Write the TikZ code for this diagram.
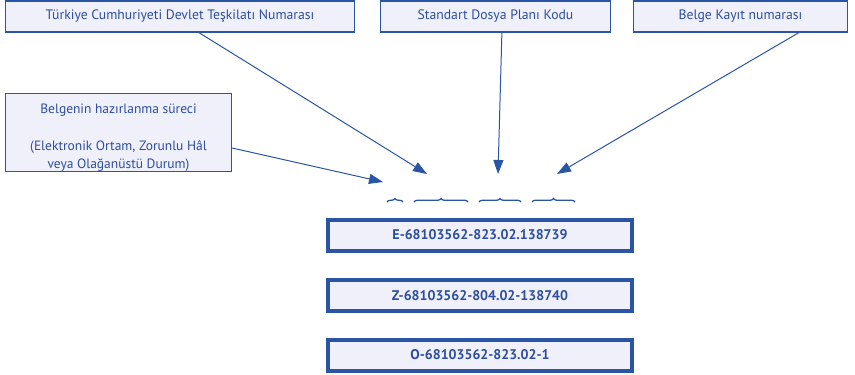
\documentclass[tikz,border=0pt]{standalone}
\usepackage{fontspec}
\setmainfont{PT Sans}
\usetikzlibrary{arrows.meta,decorations.pathreplacing}
\definecolor{lineblue}{HTML}{2A55A5}
\definecolor{textblue}{HTML}{2D4E9E}
\definecolor{boxfill}{HTML}{EFF0F9}

\begin{document}
\begin{tikzpicture}[x=1pt,y=-1pt,
  labelbox/.style={draw=lineblue, line width=1.2pt, fill=boxfill, text=textblue,
    font=\fontsize{13.7}{16}\selectfont, inner sep=0pt, minimum height=31pt},
  codebox/.style={draw=lineblue, line width=4pt, fill=boxfill, text=textblue,
    font=\bfseries\fontsize{14}{16}\selectfont, inner sep=0pt,
    minimum width=304pt, minimum height=31pt},
  pointer/.style={draw=lineblue, line width=1pt, -{Triangle[length=14pt,width=10pt]}},
  codebrace/.style={draw=lineblue, line width=1.3pt, decorate,
    decoration={brace, amplitude=3.5pt}}]
\useasboundingbox (0,0) rectangle (855,375);

% caption boxes along the top
\node[labelbox, minimum width=349pt] (org) at (180,16.5) {Türkiye Cumhuriyeti Devlet Teşkilatı Numarası};
\node[labelbox, minimum width=230pt] (plan) at (495.5,16.5) {Standart Dosya Planı Kodu};
\node[labelbox, minimum width=214pt] (reg) at (740.5,16.5) {Belge Kayıt numarası};

% preparation-process box on the left
\node[labelbox, minimum width=226pt, minimum height=78pt] (proc) at (118.5,132.5) {};
\node[text=textblue, font=\fontsize{13.5}{18.5}\selectfont, align=center, inner sep=0pt]
  (proctext) at (118.5,137.5) {Belgenin hazırlanma süreci\\[18.5pt](Elektronik Ortam, Zorunlu Hâl\\veya Olağanüstü Durum)};

% arrow targets above the number parts
\coordinate (t1) at (427,174);
\coordinate (t2) at (498,174);
\coordinate (t3) at (557,174);
\coordinate (t4) at (383,182);

\draw[pointer] ([xshift=194pt]org.south west) -- (t1);
\draw[pointer] ([xshift=122pt]plan.south west) -- (t2);
\draw[pointer] ([xshift=166pt]reg.south west) -- (t3);
\draw[pointer] ([yshift=-15.5pt]proc.east) -- (t4);

% braces marking the parts of the number
\coordinate (b1a) at (387,202); \coordinate (b1b) at (403,202);
\coordinate (b2a) at (414,202); \coordinate (b2b) at (468,202);
\coordinate (b3a) at (479,202); \coordinate (b3b) at (521,202);
\coordinate (b4a) at (532,202); \coordinate (b4b) at (575,202);
\draw[codebrace] (b1a) -- (b1b);
\draw[codebrace] (b2a) -- (b2b);
\draw[codebrace] (b3a) -- (b3b);
\draw[codebrace] (b4a) -- (b4b);

% example numbers
\node[codebox] (ex1) at (480,235) {E-68103562-823.02.138739};
\node[codebox] (ex2) at (480,295.5) {Z-68103562-804.02-138740};
\node[codebox] (ex3) at (480,355) {O-68103562-823.02-1};
\end{tikzpicture}
\end{document}
